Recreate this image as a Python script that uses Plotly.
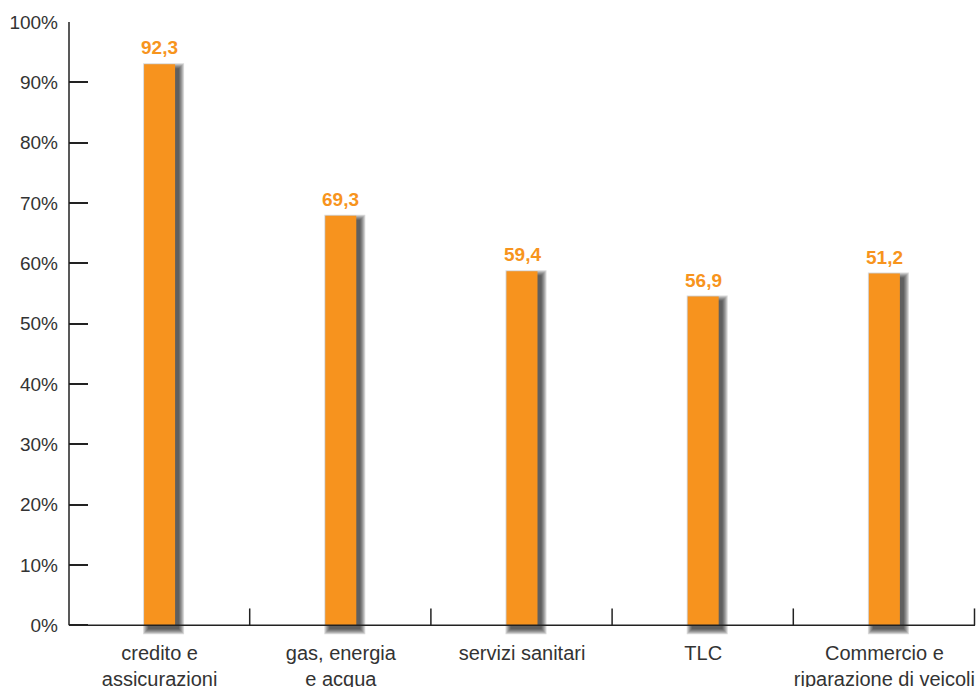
import plotly.graph_objects as go

categories = ["credito e<br>assicurazioni", "gas, energia<br>e acqua", "servizi sanitari", "TLC",
              "Commercio e<br>riparazione di veicoli"]
bar_heights = [93.0, 67.9, 58.7, 54.5, 58.3]
label_texts = ["92,3", "69,3", "59,4", "56,9", "51,2"]
y_tickvals = [0, 10, 20, 30, 40, 50, 60, 70, 80, 90, 100]
y_ticktext = ["0%", "10%", "20%", "30%", "40%", "50%", "60%", "70%", "80%", "90%", "100%"]

W, H = 976, 687
ML, MR, MT, MB = 69, 1, 22, 52
YMIN, YMAX = -1.6, 100
plot_w = W - ML - MR
plot_h = H - MT - MB
px_x = plot_w / len(categories)          # pixels per category unit
px_y = plot_h / (YMAX - YMIN)            # pixels per percent

ORANGE = "#F7931E"
AX = "#222222"
FONT = "Liberation Sans, Arial, Helvetica, sans-serif"

bar_w_px = 31
dx, dy = 4, 4
fig = go.Figure()

# soft drop shadow made of translucent layers
for k in range(6):
    wpx = bar_w_px + 2 * k
    base = -(dy + k) / px_y
    tops = [h + (-dy + k) / px_y for h in bar_heights]
    fig.add_trace(go.Bar(
        x=categories, y=[t - base for t in tops], base=base,
        width=wpx / px_x, offset=(-bar_w_px / 2 + dx - k) / px_x,
        marker=dict(color="rgba(0,0,0,0.15)", line=dict(width=0)),
        hoverinfo="skip", showlegend=False))

fig.add_trace(go.Bar(
    x=categories, y=bar_heights, width=bar_w_px / px_x,
    marker=dict(color=ORANGE, line=dict(width=0)), showlegend=False))

for c, h, t in zip(categories, bar_heights, label_texts):
    fig.add_annotation(x=c, y=h, text="<b>%s</b>" % t, showarrow=False,
                       yanchor="bottom", yshift=4,
                       font=dict(size=19, color="#F7941D", family=FONT))

def yfrac(v):
    return (v - YMIN) / (YMAX - YMIN)

# axis lines
fig.add_shape(type="line", xref="paper", yref="paper", x0=0, x1=0, y0=yfrac(0), y1=yfrac(100),
              line=dict(color=AX, width=1.5))
fig.add_shape(type="line", xref="paper", yref="paper", x0=0, x1=1, y0=yfrac(0), y1=yfrac(0),
              line=dict(color=AX, width=1.5))
n = len(categories)
for i in range(1, n + 1):
    fig.add_shape(type="line", xref="paper", yref="paper", x0=i / n - 0.5 / plot_w, x1=i / n - 0.5 / plot_w,
                  y0=yfrac(0), y1=yfrac(2.8), line=dict(color=AX, width=1.5))

fig.update_layout(
    width=W, height=H, barmode="overlay",
    margin=dict(l=ML, r=MR, t=MT, b=MB),
    plot_bgcolor="white", paper_bgcolor="white",
    font=dict(family=FONT, size=18.5, color="#333333"),
    xaxis=dict(range=[-0.5, n - 0.5], showline=False, showgrid=False, zeroline=False,
               automargin=False,
               ticks="", tickfont=dict(size=20, color="#333333"), ticklabelstandoff=4),
    yaxis=dict(range=[YMIN, YMAX], tickvals=y_tickvals, ticktext=y_ticktext,
               showline=False, showgrid=False, zeroline=False, automargin=False,
               ticks="inside", ticklen=19, tickwidth=1.5, tickcolor=AX,
               tickfont=dict(size=19, color="#333333"), ticklabelstandoff=10),
)

fig.write_html("out.html")
